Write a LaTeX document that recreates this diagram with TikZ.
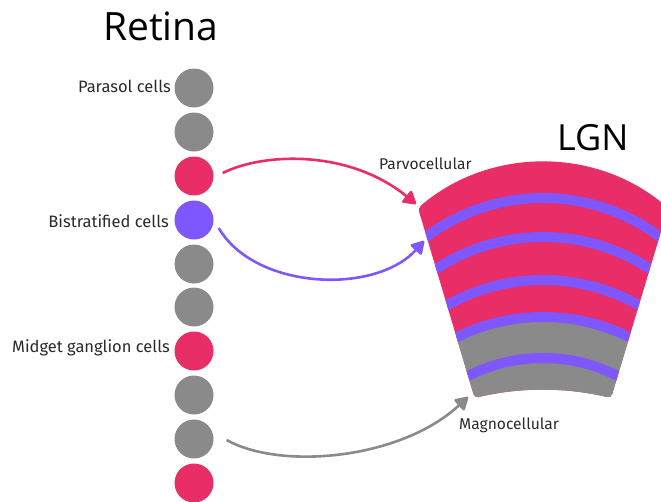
\documentclass[tikz,border=0pt]{standalone}
\usepackage{fontspec}
\setmainfont{Fira Sans}
\newfontfamily\titlefont{Open Sans}
\usetikzlibrary{arrows.meta}
\definecolor{cpink}{HTML}{E82D67}
\definecolor{cpurple}{HTML}{7E57FF}
\definecolor{cgrey}{HTML}{8A8A8A}
\definecolor{ctext}{HTML}{2A2A2A}
\begin{document}
\begin{tikzpicture}[x=1pt,y=-1pt,
  cell/.style={circle, minimum size=39pt, inner sep=0pt, fill=#1},
  lab/.style={font=\fontsize{16.5}{18}\selectfont, text=ctext, inner sep=0pt},
  midlab/.style={font=\fontsize{15.6}{18}\selectfont, text=ctext, inner sep=0pt},
  bigtitle/.style={font=\titlefont\fontsize{39}{44}\selectfont, inner sep=0pt},
  conn/.style={line width=2.6pt, draw=#1, -{Triangle[length=14pt,width=16pt,round]}},
  band/.style={draw=cpurple, line width=10pt},
]
\useasboundingbox (0,0) rectangle (661,501);
% titles
\node[bigtitle, anchor=base west] (rt) at (103,40) {Retina};
\node[bigtitle, anchor=base west, font=\titlefont\fontsize{36}{40}\selectfont] (lgn) at (557,150) {LGN};
% retina cells
\node[cell=cgrey]   (c1)  at (194,88)  {};
\node[cell=cgrey]   (c2)  at (194,132) {};
\node[cell=cpink]   (c3)  at (194,176) {};
\node[cell=cpurple] (c4)  at (194,220) {};
\node[cell=cgrey]   (c5)  at (194,264) {};
\node[cell=cgrey]   (c6)  at (194,307) {};
\node[cell=cpink]   (c7)  at (194,351) {};
\node[cell=cgrey]   (c8)  at (194,395) {};
\node[cell=cgrey]   (c9)  at (194,439) {};
\node[cell=cpink]   (c10) at (194,483) {};
% labels
\node[lab, anchor=east] (lpar) at (171,86)  {Parasol cells};
\node[lab, anchor=east] (lbis) at (169,221) {Bistratified cells};
\node[lab, anchor=east] (lmid) at (170,348) {Midget ganglion cells};
% LGN fan
\def\fanpath{(418,208) arc[start angle=-130.4, end angle=-49.6, radius=193] -- (611,398) arc[start angle=-76.4, end angle=-103.6, radius=290] -- cycle}
\fill[cpink, rounded corners=4pt] \fanpath;
\begin{scope}
  \clip[rounded corners=4pt] \fanpath;
  \fill[cgrey] (543,512) circle[radius=195];
  \draw[band] (543,393) circle[radius=195];
  \draw[band] (543,432) circle[radius=195];
  \draw[band] (543,475) circle[radius=195];
  \draw[band] (543,512) circle[radius=195];
  \draw[band] (543,523) circle[radius=165];
\end{scope}
\node[midlab, anchor=base west] (lparvo) at (379,169) {Parvocellular};
\node[midlab, anchor=base west] (lmagno) at (459,429) {Magnocellular};
% arrow targets
\coordinate (pt) at (416,204);
\coordinate (vt) at (424,241);
\coordinate (mt) at (468,397);
% connectors
\draw[conn=cpink]   ([shift={(9,-3)}]c3.east) .. controls (265,152) and (350,150) .. (pt);
\draw[conn=cpurple] ([shift={(5,8)}]c4.east) .. controls (255,290) and (375,295) .. (vt);
\draw[conn=cgrey]   ([shift={(13,1)}]c9.east) .. controls (280,470) and (400,460) .. (mt);
\end{tikzpicture}
\end{document}
